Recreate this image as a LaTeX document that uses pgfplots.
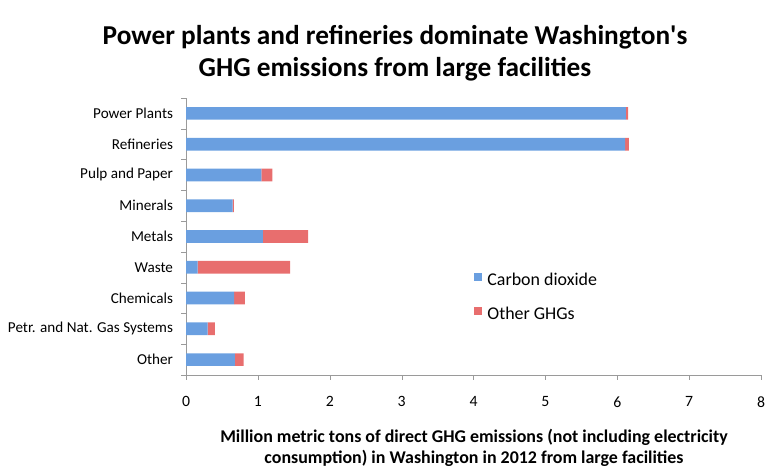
\documentclass[border=0pt]{standalone}
\usepackage{fontspec}
\setmainfont{Carlito}
\usepackage{pgfplots}
\pgfplotsset{compat=1.18}
\definecolor{co2}{HTML}{6A9FE0}
\definecolor{ghg}{HTML}{E86E6E}
\definecolor{axisgray}{HTML}{9A9A9A}
\begin{document}
\begin{tikzpicture}
\path (0bp,0bp) rectangle (782bp,476bp);
\node[font=\bfseries\fontsize{27.4}{32}\selectfont, align=center] at (395bp,423bp) {Power plants and refineries dominate Washington\textquotesingle s\\GHG emissions from large facilities};
\begin{axis}[
  at={(186bp,101bp)}, anchor=south west,
  scale only axis, width=575bp, height=277bp,
  xbar stacked, bar width=12.7bp,
  xmin=0, xmax=8, ymin=-0.5, ymax=8.5,
  axis x line*=bottom, axis y line*=left,
  axis line style={axisgray, -},
  xtick={0,...,8},
  ytick={-0.5,0.5,...,8.5},
  yticklabels={},
  extra y ticks={0,...,8},
  extra y tick labels={Other,Petr. and Nat. Gas Systems,Chemicals,Waste,Metals,Minerals,Pulp and Paper,Refineries,Power Plants},
  extra y tick style={tick style={draw=none}, yticklabel style={font=\fontsize{15.2}{17}\selectfont, xshift=-4.5bp}},
  tick align=outside,
  major tick length=5bp,
  tick style={draw=axisgray},
  xticklabel style={font=\fontsize{15.8}{18}\selectfont, yshift=-13bp},
  /pgf/number format/assume math mode=true,
  legend style={at={(0.496,0.383)}, anchor=north west, draw=none, fill=none,
    font=\fontsize{18}{21}\selectfont, row sep=16bp},
  legend cell align=left,
  legend image code/.code={\fill[#1] (0bp,-1bp) rectangle (8bp,7bp); \path (11bp,0bp);},
]
\addplot[fill=co2, draw=none] coordinates {(6.12,8) (6.11,7) (1.05,6) (0.65,5) (1.07,4) (0.16,3) (0.67,2) (0.30,1) (0.68,0)};
\addplot[fill=ghg, draw=none] coordinates {(0.03,8) (0.05,7) (0.15,6) (0.015,5) (0.63,4) (1.29,3) (0.15,2) (0.10,1) (0.12,0)};
\legend{Carbon dioxide, Other GHGs}
\end{axis}
\node[font=\bfseries\fontsize{18}{21}\selectfont, align=center] at (474bp,28.5bp) {Million metric tons of direct GHG emissions (not including electricity\\consumption) in Washington in 2012 from large facilities};
\end{tikzpicture}
\end{document}
